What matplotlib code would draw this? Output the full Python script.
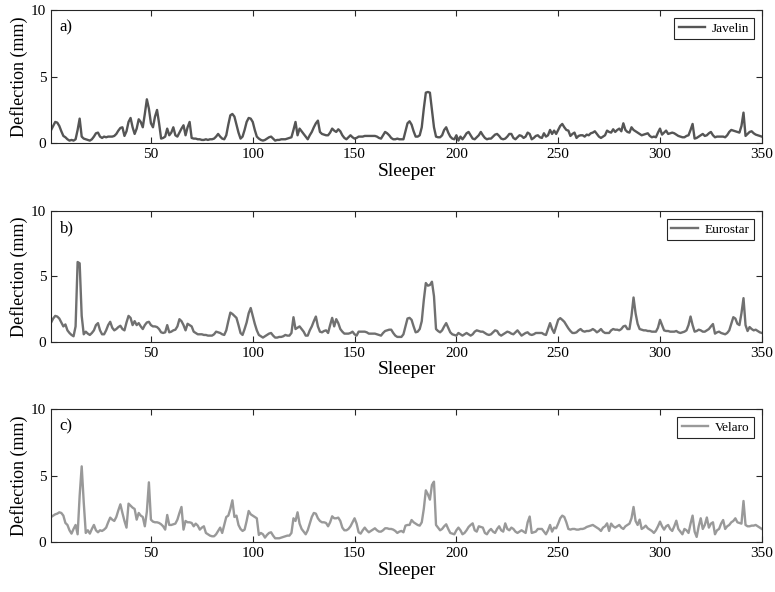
import numpy as np
import matplotlib
matplotlib.use("Agg")
import matplotlib.pyplot as plt

plt.rcParams['font.family'] = ['Liberation Serif', 'DejaVu Serif']
plt.rcParams['mathtext.fontset'] = 'stix'

# deflection (mm) at each sleeper
sleepers = np.arange(1, 351)

javelin = [
    1.0, 1.3, 1.6, 1.55, 1.3, 0.9, 0.55, 0.45, 0.3, 0.2,
    0.25, 0.2, 0.3, 1.0, 1.85, 0.5, 0.35, 0.3, 0.25, 0.2,
    0.3, 0.5, 0.75, 0.8, 0.5, 0.4, 0.5, 0.45, 0.5, 0.5,
    0.5, 0.55, 0.7, 0.95, 1.15, 1.2, 0.55, 0.9, 1.6, 1.9,
    1.2, 0.7, 1.1, 1.8, 1.6, 1.2, 2.2, 3.3, 2.6, 1.5,
    1.2, 2.0, 2.5, 1.5, 0.35, 0.4, 0.5, 1.1, 0.6, 0.8,
    1.2, 0.6, 0.5, 0.8, 1.1, 1.35, 0.6, 1.2, 1.6, 0.4,
    0.35, 0.35, 0.3, 0.3, 0.25, 0.25, 0.3, 0.25, 0.3, 0.3,
    0.35, 0.5, 0.7, 0.5, 0.35, 0.3, 0.6, 1.4, 2.1, 2.2,
    2.0, 1.4, 0.8, 0.35, 0.5, 1.0, 1.6, 1.9, 1.85, 1.6,
    1.0, 0.5, 0.35, 0.25, 0.2, 0.25, 0.35, 0.45, 0.5, 0.35,
    0.2, 0.25, 0.25, 0.3, 0.3, 0.3, 0.35, 0.4, 0.45, 1.0,
    1.6, 0.6, 1.1, 0.9, 0.7, 0.5, 0.3, 0.6, 0.85, 1.2,
    1.5, 1.7, 0.85, 0.7, 0.65, 0.6, 0.6, 0.8, 1.1, 0.95,
    0.85, 1.05, 0.9, 0.6, 0.4, 0.3, 0.45, 0.6, 0.45, 0.35,
    0.4, 0.5, 0.5, 0.5, 0.55, 0.55, 0.55, 0.55, 0.55, 0.55,
    0.5, 0.4, 0.35, 0.6, 0.85, 0.75, 0.6, 0.4, 0.3, 0.3,
    0.35, 0.3, 0.3, 0.3, 0.9, 1.5, 1.65, 1.4, 0.9, 0.5,
    0.5, 0.6, 1.2, 2.6, 3.8, 3.85, 3.8, 2.5, 1.2, 0.5,
    0.45, 0.45, 0.6, 1.0, 1.2, 0.8, 0.5, 0.35, 0.3, 0.6,
    0.2, 0.5, 0.3, 0.5, 0.75, 0.85, 0.6, 0.35, 0.3, 0.45,
    0.6, 0.85, 0.6, 0.4, 0.3, 0.35, 0.35, 0.5, 0.65, 0.7,
    0.55, 0.35, 0.3, 0.35, 0.5, 0.7, 0.7, 0.4, 0.3, 0.45,
    0.6, 0.55, 0.4, 0.5, 0.8, 0.7, 0.3, 0.4, 0.55, 0.6,
    0.45, 0.4, 0.75, 0.5, 0.6, 1.0, 0.7, 0.95, 0.7, 1.0,
    1.3, 1.45, 1.2, 1.0, 0.95, 0.55, 0.7, 0.8, 0.4, 0.55,
    0.6, 0.6, 0.5, 0.65, 0.6, 0.75, 0.8, 0.9, 0.7, 0.5,
    0.4, 0.5, 0.6, 0.95, 0.85, 0.8, 1.05, 0.85, 1.0, 1.1,
    0.9, 1.5, 1.0, 0.85, 0.8, 1.2, 1.0, 0.9, 0.8, 0.7,
    0.6, 0.65, 0.7, 0.75, 0.55, 0.45, 0.5, 0.45, 0.8, 1.1,
    0.65, 0.8, 0.95, 0.7, 0.75, 0.8, 0.75, 0.65, 0.55, 0.5,
    0.45, 0.45, 0.55, 0.6, 1.0, 1.45, 0.35, 0.4, 0.5, 0.6,
    0.7, 0.55, 0.6, 0.75, 0.85, 0.6, 0.45, 0.5, 0.5, 0.5,
    0.5, 0.45, 0.6, 0.85, 1.0, 0.95, 0.9, 0.85, 0.8, 1.3,
    2.3, 0.55, 0.7, 0.85, 0.9, 0.75, 0.65, 0.6, 0.55, 0.5,
]

eurostar = [
    1.5, 1.8, 2.0, 1.95, 1.8, 1.5, 1.2, 1.35, 0.9, 0.7,
    0.55, 0.45, 1.2, 6.1, 6.0, 2.0, 0.6, 0.8, 0.65, 0.55,
    0.7, 0.9, 1.3, 1.45, 0.9, 0.6, 0.6, 0.9, 1.3, 1.55,
    1.1, 0.9, 1.0, 1.15, 1.25, 1.0, 0.9, 1.5, 2.0, 1.85,
    1.3, 1.6, 1.3, 1.45, 1.2, 1.0, 1.3, 1.5, 1.55, 1.3,
    1.2, 1.2, 1.15, 1.0, 0.75, 0.7, 0.75, 1.3, 0.75, 0.8,
    0.9, 0.95, 1.2, 1.75, 1.6, 1.3, 0.9, 1.4, 1.3, 1.2,
    0.8, 0.7, 0.6, 0.6, 0.6, 0.55, 0.55, 0.5, 0.5, 0.5,
    0.6, 0.8, 0.75, 0.7, 0.6, 0.55, 0.9, 1.6, 2.25, 2.15,
    2.0, 1.85, 1.3, 0.7, 0.55, 1.0, 1.5, 2.2, 2.6, 2.0,
    1.4, 0.9, 0.55, 0.45, 0.35, 0.45, 0.55, 0.65, 0.7, 0.5,
    0.35, 0.35, 0.4, 0.4, 0.45, 0.55, 0.5, 0.5, 0.7, 1.9,
    1.0, 1.1, 1.2, 1.0, 0.8, 0.5, 0.5, 0.9, 1.2, 1.6,
    1.95, 1.2, 0.8, 0.75, 0.85, 0.9, 0.7, 1.3, 1.85, 1.2,
    1.75, 1.45, 1.0, 0.8, 0.65, 0.65, 0.65, 0.7, 0.8, 0.6,
    0.5, 0.8, 0.8, 0.8, 0.8, 0.75, 0.65, 0.65, 0.65, 0.65,
    0.6, 0.55, 0.5, 0.7, 0.85, 0.9, 0.95, 0.95, 0.7, 0.5,
    0.4, 0.4, 0.4, 0.6, 1.2, 1.8, 1.85, 1.7, 1.2, 0.75,
    0.8, 1.0, 1.6, 3.2, 4.5, 4.3, 4.35, 4.6, 3.5, 1.0,
    0.85, 0.75, 0.9, 1.2, 1.45, 1.1, 0.75, 0.6, 0.55, 0.5,
    0.7, 0.6, 0.5, 0.6, 0.7, 0.6, 0.5, 0.6, 0.8, 0.9,
    0.85, 0.8, 0.8, 0.7, 0.6, 0.55, 0.6, 0.75, 0.9, 0.85,
    0.6, 0.5, 0.6, 0.7, 0.8, 0.75, 0.65, 0.6, 0.75, 0.9,
    0.7, 0.5, 0.6, 0.7, 0.75, 0.6, 0.55, 0.6, 0.7, 0.7,
    0.7, 0.7, 0.6, 0.55, 1.0, 1.45, 1.0, 0.7, 1.2, 1.7,
    1.83, 1.7, 1.55, 1.3, 1.05, 0.85, 0.7, 0.7, 0.75, 0.9,
    1.0, 0.85, 0.8, 0.85, 0.85, 0.9, 1.0, 0.9, 0.75, 0.85,
    1.0, 0.8, 0.7, 0.7, 0.7, 0.9, 1.0, 0.95, 0.95, 0.9,
    1.0, 1.2, 1.25, 1.0, 1.0, 2.0, 3.4, 2.2, 1.4, 1.0,
    0.95, 0.9, 0.9, 0.85, 0.85, 0.8, 0.8, 0.8, 1.1, 1.7,
    1.3, 0.9, 0.85, 0.85, 0.8, 0.8, 0.8, 0.85, 0.75, 0.7,
    0.75, 0.8, 0.9, 1.3, 1.95, 1.3, 0.8, 0.85, 0.95, 0.9,
    0.8, 0.8, 0.9, 1.0, 1.2, 1.38, 0.65, 0.75, 0.8, 0.7,
    0.65, 0.6, 0.7, 0.9, 1.4, 1.9, 1.8, 1.4, 1.3, 2.2,
    3.35, 1.3, 0.85, 1.15, 1.0, 0.9, 0.95, 0.85, 0.75, 0.7,
]

velaro = [
    1.9, 2.0, 2.1, 2.15, 2.25, 2.2, 2.0, 1.45, 1.3, 0.9,
    0.65, 1.0, 1.3, 0.6, 3.5, 5.7, 3.0, 0.7, 0.9, 0.65,
    1.0, 1.3, 0.9, 0.75, 0.9, 0.85, 0.95, 1.1, 1.5, 1.85,
    1.7, 1.6, 1.9, 2.4, 2.85, 2.2, 1.6, 1.1, 2.9, 2.75,
    2.6, 2.5, 1.7, 2.2, 2.0, 1.9, 1.2, 2.3, 4.5, 1.7,
    1.55, 1.5, 1.5, 1.45, 1.35, 1.2, 0.95, 2.05, 1.3, 1.3,
    1.35, 1.4, 1.7, 2.2, 2.65, 0.95, 1.6, 1.5, 1.5, 1.45,
    1.2, 1.4, 1.25, 0.95, 1.1, 1.2, 0.7, 0.6, 0.5, 0.45,
    0.45, 0.6, 0.85, 1.1, 0.7, 1.3, 1.9, 2.0, 2.5, 3.15,
    1.9, 2.0, 1.3, 1.0, 0.85, 0.95, 1.6, 2.35, 2.1, 2.0,
    1.9, 1.8, 0.55, 0.7, 0.6, 0.35, 0.55, 0.7, 0.75, 0.5,
    0.3, 0.3, 0.3, 0.35, 0.4, 0.45, 0.5, 0.5, 0.7, 1.8,
    1.6, 2.25, 1.4, 1.0, 0.8, 0.6, 0.9, 1.4, 1.9, 2.2,
    2.15, 1.8, 1.6, 1.5, 1.5, 1.45, 1.2, 1.5, 1.95, 1.8,
    1.8, 1.85, 1.6, 1.1, 0.9, 0.9, 1.0, 1.2, 1.5, 1.8,
    1.4, 0.75, 0.65, 0.9, 1.1, 0.9, 0.75, 0.85, 0.95, 1.05,
    0.9, 0.8, 0.8, 0.9, 1.05, 1.05, 1.0, 1.0, 0.95, 0.85,
    0.7, 0.8, 0.85, 0.75, 1.25, 1.3, 1.3, 1.67, 1.5, 1.4,
    1.3, 1.25, 1.5, 2.5, 3.9, 3.6, 3.2, 4.3, 4.55, 1.3,
    1.1, 0.9, 1.0, 1.2, 1.35, 1.0, 0.7, 0.65, 0.6, 0.9,
    1.1, 0.9, 0.6, 0.7, 0.9, 1.15, 1.3, 1.42, 0.9, 0.8,
    1.2, 1.15, 1.1, 0.7, 0.6, 0.85, 1.0, 0.8, 0.7, 1.0,
    1.2, 0.9, 0.8, 1.42, 1.0, 0.9, 1.1, 1.0, 0.8, 0.7,
    0.8, 0.9, 0.8, 0.7, 1.5, 1.93, 0.7, 0.75, 0.8, 1.0,
    1.0, 1.0, 0.8, 0.6, 0.9, 1.3, 0.8, 1.1, 1.05, 1.4,
    1.8, 2.0, 1.9, 1.5, 1.0, 0.95, 1.0, 1.0, 0.95, 0.95,
    1.0, 1.0, 1.05, 1.15, 1.2, 1.25, 1.3, 1.2, 1.1, 1.0,
    0.85, 1.1, 1.2, 1.42, 0.85, 1.4, 1.2, 1.1, 1.2, 1.3,
    1.1, 1.0, 1.2, 1.3, 1.4, 1.8, 2.65, 1.6, 1.3, 1.7,
    1.0, 1.1, 1.25, 1.05, 0.95, 0.85, 0.7, 0.9, 1.2, 1.55,
    1.2, 0.95, 1.2, 1.3, 1.0, 0.85, 1.2, 1.62, 1.0, 0.8,
    0.6, 1.0, 0.9, 0.7, 1.4, 2.0, 0.8, 0.4, 1.2, 1.8,
    1.0, 1.3, 1.86, 1.1, 1.4, 1.5, 0.6, 0.9, 1.0, 1.4,
    1.67, 1.0, 1.2, 1.3, 1.5, 1.6, 1.8, 1.5, 1.45, 1.4,
    3.1, 1.3, 1.2, 1.2, 1.25, 1.25, 1.3, 1.2, 1.1, 1.0,
]

trains = ['Javelin', 'Eurostar', 'Velaro']
panel_tags = ['a)', 'b)', 'c)']
line_colors = ['#555555', '#707070', '#999999']
xtick_vals = [50, 100, 150, 200, 250, 300, 350]
ytick_vals = [0, 5, 10]

fig = plt.figure(figsize=(7.75, 5.92), dpi=100)

# axes boxes in figure fractions (left, bottom, width, height)
boxes = [
    [0.066, 0.758, 0.917, 0.225],
    [0.066, 0.422, 0.917, 0.222],
    [0.066, 0.084, 0.917, 0.225],
]

axis_col = '#262626'

for i, data in enumerate([javelin, eurostar, velaro]):
    ax = fig.add_axes(boxes[i])
    ax.plot(sleepers, data, color=line_colors[i], linewidth=1.7, label=trains[i])
    ax.set_xlim(1, 350)
    ax.set_ylim(0, 10)
    ax.set_xticks(xtick_vals)
    ax.set_yticks(ytick_vals)
    ax.tick_params(direction='in', length=4, width=0.8, labelsize=11,
                   top=True, right=True, colors=axis_col, labelcolor='black')
    for s in ax.spines.values():
        s.set_color(axis_col)
        s.set_linewidth(0.8)
    ax.set_xlabel('Sleeper', fontsize=14, labelpad=1)
    ax.set_ylabel('Deflection (mm)', fontsize=13, labelpad=2)
    ax.text(0.012, 0.93, panel_tags[i], transform=ax.transAxes,
            fontsize=12, va='top', ha='left')
    leg = ax.legend(loc='upper right', fontsize=9.5, handlelength=2.0,
                    fancybox=False, framealpha=1, borderpad=0.35,
                    handletextpad=0.5, borderaxespad=0.6)
    leg.get_frame().set_edgecolor(axis_col)
    leg.get_frame().set_linewidth(0.8)

fig.savefig('out.png', dpi=100)
